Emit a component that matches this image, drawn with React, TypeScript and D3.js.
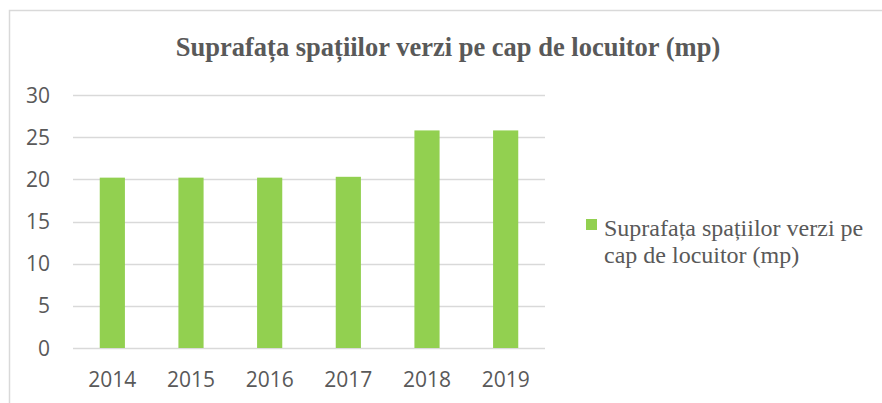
import React, { useEffect, useRef } from "react";
import * as d3 from "d3";

const years = ["2014", "2015", "2016", "2017", "2018", "2019"];
const values = [20.2, 20.2, 20.2, 20.3, 25.8, 25.8];
const yTicks = [0, 5, 10, 15, 20, 25, 30];
const title = "Suprafața spațiilor verzi pe cap de locuitor (mp)";
const legendLines = ["Suprafața spațiilor verzi pe", "cap de locuitor (mp)"];

const W = 882;
const H = 403;
const plot = { left: 73, right: 545, top: 95, bottom: 348 };
const barColor = "#92d050";
const textColor = "#595959";
const sans = "'Open Sans', 'Liberation Sans', sans-serif";
const serif = "'Liberation Serif', 'Times New Roman', serif";

export default function App() {
  const ref = useRef<SVGSVGElement>(null);
  useEffect(() => {
    const svg = d3.select(ref.current);
    svg.selectAll("*").remove();

    svg.append("rect").attr("x", 0).attr("y", 0).attr("width", W).attr("height", H).attr("fill", "#fff");
    svg.append("path")
      .attr("d", `M9.5,${H + 2} V10.5 H${W + 2}`)
      .attr("fill", "none").attr("stroke", "#d9d9d9").attr("stroke-width", 1.5);

    const x = d3.scaleBand().domain(years).range([plot.left, plot.right]).paddingInner(0.68).paddingOuter(0.34);
    const y = d3.scaleLinear().domain([0, 30]).range([plot.bottom, plot.top]);

    svg.append("g").selectAll("line").data(yTicks).join("line")
      .attr("x1", plot.left).attr("x2", plot.right)
      .attr("y1", (d) => Math.round(y(d)) + 0.5).attr("y2", (d) => Math.round(y(d)) + 0.5)
      .attr("stroke", "#d9d9d9").attr("stroke-width", 1.5);

    svg.append("g").selectAll("text").data(yTicks).join("text")
      .attr("x", 50).attr("y", (d) => y(d)).attr("dy", "0.36em")
      .attr("text-anchor", "end").style("font-family", sans).style("font-size", "21px")
      .attr("fill", textColor).text((d) => String(d));

    svg.append("g").selectAll("rect").data(values).join("rect")
      .attr("x", (_, i) => x(years[i])!).attr("width", x.bandwidth())
      .attr("y", (d) => y(d)).attr("height", (d) => y(0) - y(d))
      .attr("fill", barColor);

    svg.append("g").selectAll("text").data(years).join("text")
      .attr("x", (d) => x(d)! + x.bandwidth() / 2).attr("y", 387)
      .attr("text-anchor", "middle").style("font-family", sans).style("font-size", "21px")
      .attr("fill", textColor).text((d) => d);

    svg.append("text").attr("x", 448).attr("y", 56).attr("text-anchor", "middle")
      .style("font-family", serif).style("font-weight", "bold").style("font-size", "26.5px")
      .attr("fill", textColor).text(title);

    svg.append("rect").attr("x", 586).attr("y", 219).attr("width", 11).attr("height", 11).attr("fill", barColor);
    svg.append("g").selectAll("text").data(legendLines).join("text")
      .attr("x", 604).attr("y", (_, i) => 236 + i * 27)
      .style("font-family", serif).style("font-size", "24px")
      .attr("fill", textColor).text((d) => d);
  }, []);

  return (
    <svg ref={ref} width={W} height={H} style={{ position: "absolute", left: 0, top: 0, display: "block" }} />
  );
}
